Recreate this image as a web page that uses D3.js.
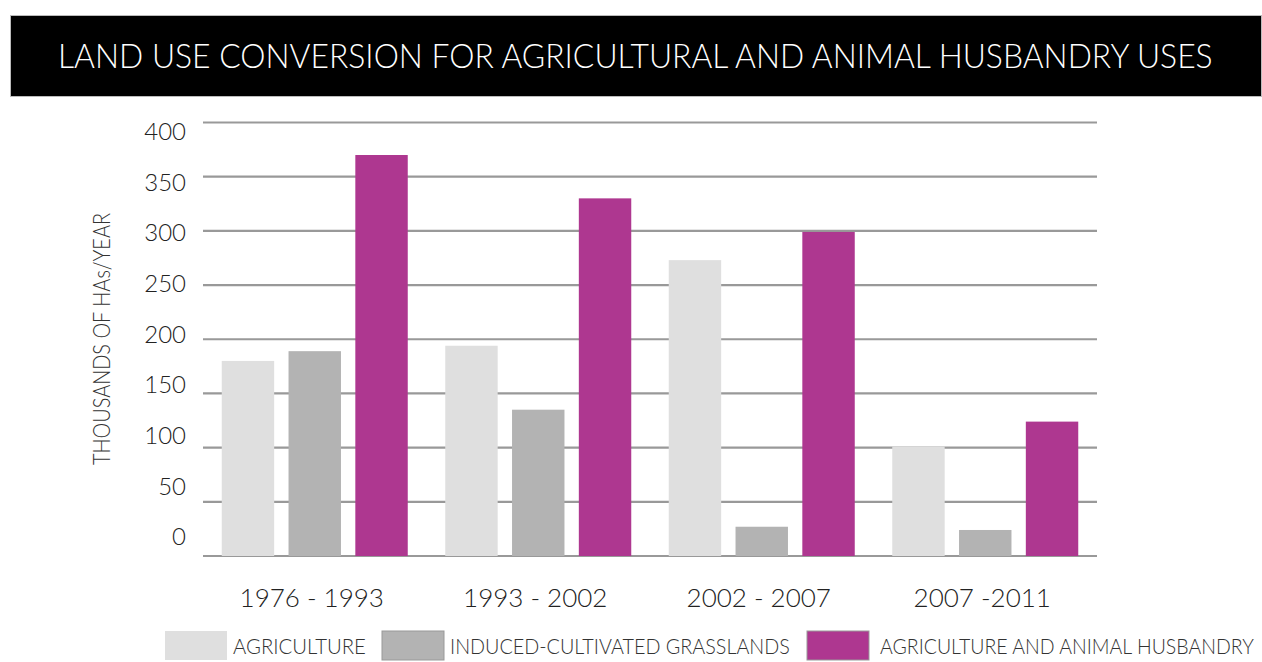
<!DOCTYPE html>
<html>
<head>
<meta charset="utf-8">
<script src="https://cdn.jsdelivr.net/npm/d3@7"></script>
<style>
  body { margin: 0; background: #fff; }
  text { font-family: "Lato", "Open Sans", sans-serif; font-weight: 300; }
</style>
</head>
<body>
<script>
var periods = ["1976 - 1993", "1993 - 2002", "2002 - 2007", "2007 -2011"];
var seriesNames = ["AGRICULTURE", "INDUCED-CULTIVATED GRASSLANDS", "AGRICULTURE AND ANIMAL HUSBANDRY"];
var agriculture = [180, 194, 273, 101];
var grasslands = [189, 135, 27, 24];
var agriAnimal = [370, 330, 299, 124];
var yTicks = [0, 50, 100, 150, 200, 250, 300, 350, 400];
var colors = ["#dfdfdf", "#b3b3b3", "#ae3790"];

var width = 1262, height = 662;

var svg = d3.select("body").append("svg")
	.attr("width", width)
	.attr("height", height);

// squeeze a text horizontally so it spans w pixels from (x, y)
function fitText(sel, x, y, w) {
	sel.each(function () {
		var len = this.getComputedTextLength();
		d3.select(this).attr("transform", "translate(" + x + "," + y + ") scale(" + (w / len) + ",1)");
	});
}

// title bar
svg.append("rect")
	.attr("x", 10.5).attr("y", 15.5)
	.attr("width", 1251).attr("height", 81)
	.style("fill", "#000")
	.style("stroke", "#bbb");
svg.append("text")
	.text("LAND USE CONVERSION FOR AGRICULTURAL AND ANIMAL HUSBANDRY USES")
	.style("font-size", "34px")
	.style("fill", "#fff")
	.call(fitText, 58, 68, 1155);

var x0 = d3.scaleBand().domain(periods).range([203, 1097]).paddingInner(0).paddingOuter(0);
var x1 = d3.scaleBand().domain(d3.range(3)).range([0, 186]).paddingInner(0.215);
var y = d3.scaleLinear().domain([0, 400]).range([556, 122.5]);
// the value labels in the original sit on their own spacing
var yLabel = d3.scaleLinear().domain([0, 400]).range([537, 132]);

// gridlines
svg.append("g").selectAll("line")
	.data(yTicks)
	.enter()
	.append("line")
	.attr("x1", 203).attr("x2", 1097)
	.attr("y1", function (d) { return y(d); })
	.attr("y2", function (d) { return y(d); })
	.style("stroke", "#999")
	.style("stroke-width", 2.2);

var yAxis = svg.append("g")
	.attr("transform", "translate(186,0)")
	.call(d3.axisLeft(yLabel).tickValues(yTicks).tickSize(0).tickPadding(0));
yAxis.select(".domain").remove();
yAxis.selectAll("text")
	.style("font-family", "Lato, sans-serif")
	.style("font-weight", 300)
	.style("font-size", "24px")
	.style("fill", "#222");

svg.append("text")
	.text("THOUSANDS OF HAs/YEAR")
	.attr("transform", "translate(110,339) rotate(-90)")
	.attr("text-anchor", "middle")
	.attr("textLength", 252)
	.attr("lengthAdjust", "spacingAndGlyphs")
	.style("font-size", "24px")
	.style("fill", "#333");

var rows = periods.map(function (p, i) {
	return { period: p, values: [agriculture[i], grasslands[i], agriAnimal[i]] };
});

var groups = svg.selectAll("g.group")
	.data(rows)
	.enter()
	.append("g")
	.attr("class", "group")
	.attr("transform", function (d) { return "translate(" + (x0(d.period) + (x0.bandwidth() - 186) / 2) + ",0)"; });

groups.selectAll("rect")
	.data(function (d) { return d.values; })
	.enter()
	.append("rect")
	.attr("x", function (d, i) { return x1(i); })
	.attr("width", x1.bandwidth())
	.attr("y", function (d) { return y(d); })
	.attr("height", function (d) { return y(0) - y(d); })
	.style("fill", function (d, i) { return colors[i]; });

var xAxis = svg.append("g")
	.attr("transform", "translate(-3,598)")
	.call(d3.axisBottom(x0).tickSize(0).tickPadding(0));
xAxis.select(".domain").remove();
xAxis.selectAll("text")
	.attr("dy", "0.35em")
	.style("font-family", "Lato, sans-serif")
	.style("font-weight", 300)
	.style("font-size", "26px")
	.style("fill", "#222");

// legend
var legendX = [165, 382, 807];
var legendW = [133, 340, 374];
var legend = svg.selectAll("g.legend")
	.data(seriesNames)
	.enter()
	.append("g")
	.attr("class", "legend")
	.attr("transform", function (d, i) { return "translate(" + legendX[i] + ",631)"; });
legend.append("rect")
	.attr("width", 62).attr("height", 29)
	.style("fill", function (d, i) { return colors[i]; })
	.style("stroke", function (d, i) { return i === 0 ? "none" : "#999"; })
	.style("stroke-width", 1);
legend.append("text")
	.text(function (d) { return d; })
	.style("font-size", "22px")
	.style("fill", "#333")
	.each(function (d, i) {
		d3.select(this).call(fitText, i === 2 ? 73 : 68, 23, legendW[i]);
	});
</script>
</body>
</html>
